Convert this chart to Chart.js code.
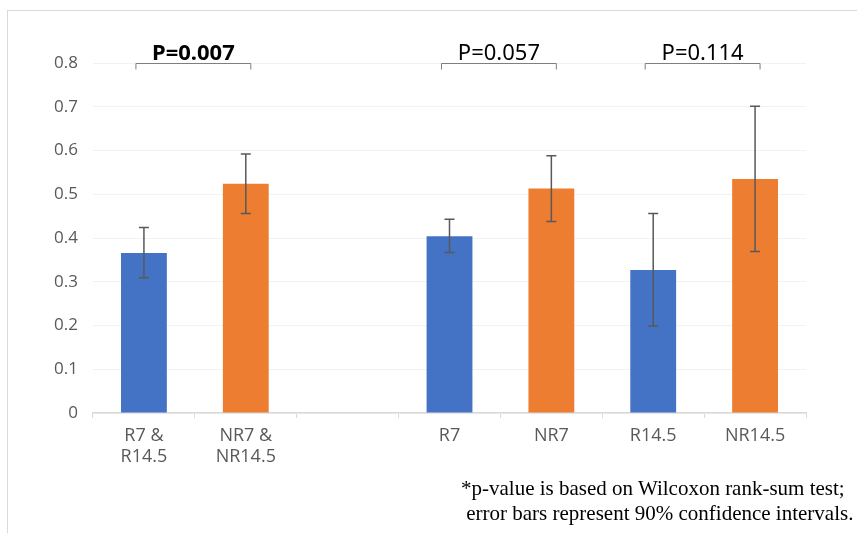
<!DOCTYPE html>
<html>
<head>
<meta charset="utf-8">
<script src="https://cdn.jsdelivr.net/npm/chart.js@4"></script>
<style>
  html, body { margin: 0; padding: 0; background: #fff; }
  #wrap { position: relative; width: 857px; height: 533px; overflow: hidden; }
  #frame { position: absolute; left: 7px; top: 10px; width: 860px; height: 540px;
           border-top: 1px solid #d9d9d9; border-left: 1px solid #d9d9d9; }
  #note { position: absolute; left: 461px; top: 476px; font-family: "Liberation Serif", serif;
          font-size: 21px; line-height: 25px; color: #000; white-space: pre; }
</style>
</head>
<body>
<div id="wrap">
  <div id="frame"></div>
  <canvas id="chart" width="857" height="533"></canvas>
  <div id="note">*p-value is based on Wilcoxon rank-sum test;
 error bars represent 90% confidence intervals.</div>
</div>
<script>
// Data
const categories = [['R7 &', 'R14.5'], ['NR7 &', 'NR14.5'], '', 'R7', 'NR7', 'R14.5', 'NR14.5'];
const values = [0.366, 0.524, null, 0.404, 0.513, 0.327, 0.535];
const errLow = [0.309, 0.456, null, 0.367, 0.438, 0.199, 0.369];
const errHigh = [0.424, 0.592, null, 0.443, 0.588, 0.456, 0.701];
const barColors = ['#4472C4', '#ED7D31', null, '#4472C4', '#ED7D31', '#4472C4', '#ED7D31'];
const pLabels = ['P=0.007', 'P=0.057', 'P=0.114'];
const pPairs = [[0, 1], [3, 4], [5, 6]];
const pLevel = 0.8;

// Error bars
const errorBars = {
    id: 'errorBars',
    afterDatasetsDraw(chart) {
        const ctx = chart.ctx;
        const x = chart.scales.x, y = chart.scales.y;
        ctx.save();
        ctx.strokeStyle = '#595959';
        ctx.lineWidth = 1.5;
        values.forEach((v, i) => {
            if (v === null) return;
            const cx = x.getPixelForValue(i);
            const top = y.getPixelForValue(errHigh[i]);
            const bot = y.getPixelForValue(errLow[i]);
            ctx.beginPath();
            ctx.moveTo(cx, top); ctx.lineTo(cx, bot);
            ctx.moveTo(cx - 5, top); ctx.lineTo(cx + 5, top);
            ctx.moveTo(cx - 5, bot); ctx.lineTo(cx + 5, bot);
            ctx.stroke();
        });
        ctx.restore();
    }
};

// P-value brackets
const brackets = {
    id: 'brackets',
    afterDraw(chart) {
        const ctx = chart.ctx;
        const x = chart.scales.x, y = chart.scales.y;
        const by = Math.round(y.getPixelForValue(pLevel)) + 0.5;
        ctx.save();
        ctx.strokeStyle = '#7f7f7f';
        ctx.lineWidth = 1;
        pPairs.forEach((pair, k) => {
            const x1 = x.getPixelForValue(pair[0]) - 8;
            const x2 = x.getPixelForValue(pair[1]) + 5;
            ctx.beginPath();
            ctx.moveTo(x1, by + 6); ctx.lineTo(x1, by); ctx.lineTo(x2, by); ctx.lineTo(x2, by + 6);
            ctx.stroke();
            ctx.fillStyle = '#000';
            ctx.font = (k === 0 ? 'bold ' : '') + '22px "Noto Sans"';
            ctx.textAlign = 'center';
            ctx.textBaseline = 'alphabetic';
            ctx.fillText(pLabels[k], (x1 + x2) / 2, by - 4);
        });
        ctx.restore();
    }
};

new Chart(document.getElementById('chart'), {
    type: 'bar',
    data: {
        labels: categories,
        datasets: [{
            data: values,
            backgroundColor: barColors,
            barPercentage: 0.45,
            categoryPercentage: 1
        }]
    },
    options: {
        responsive: false,
        animation: false,
        layout: { padding: { top: 63, right: 51, left: 0, bottom: 0 } },
        plugins: { legend: { display: false }, tooltip: { enabled: false } },
        scales: {
            x: {
                afterFit: (s) => { s.height = 120; },
                grid: { offset: true, drawOnChartArea: false, color: '#d9d9d9', tickLength: 5 },
                border: { color: '#d9d9d9', width: 1.5 },
                ticks: { color: '#595959', padding: 8, font: { size: 18, family: 'Open Sans', lineHeight: 1.15 } }
            },
            y: {
                min: 0,
                max: 0.8,
                afterFit: (s) => { s.width = 93; },
                grid: { color: '#f2f2f2', drawTicks: false },
                border: { display: false },
                ticks: { stepSize: 0.1, color: '#595959', padding: 15, font: { size: 17, family: 'Open Sans' } }
            }
        }
    },
    plugins: [errorBars, brackets]
});
</script>
</body>
</html>
